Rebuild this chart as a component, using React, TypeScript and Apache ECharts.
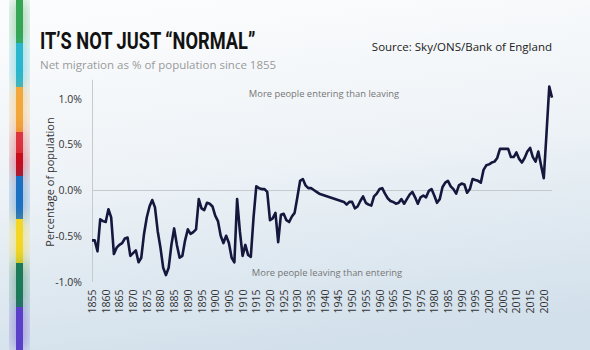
import React, { useEffect, useRef } from "react";
import * as echarts from "echarts";

const years: number[] = [
  1855, 1856, 1857, 1858, 1859, 1860, 1861, 1862, 1863, 1864, 1865, 1866, 1867, 1868, 1869,
  1870, 1871, 1872, 1873, 1874, 1875, 1876, 1877, 1878, 1879, 1880, 1881, 1882, 1883, 1884,
  1885, 1886, 1887, 1888, 1889, 1890, 1891, 1892, 1893, 1894, 1895, 1896, 1897, 1898, 1899,
  1900, 1901, 1902, 1903, 1904, 1905, 1906, 1907, 1908, 1909, 1910, 1911, 1912, 1913, 1914,
  1915, 1916, 1917, 1918, 1919, 1920, 1921, 1922, 1923, 1924, 1925, 1926, 1927, 1928, 1929,
  1930, 1931, 1932, 1933, 1934, 1935, 1936, 1937, 1938,
  1947, 1948, 1949, 1950, 1951, 1952, 1953, 1954, 1955, 1956, 1957, 1958, 1959,
  1960, 1961, 1962, 1963, 1964, 1965, 1966, 1967, 1968, 1969, 1970, 1971, 1972, 1973, 1974,
  1975, 1976, 1977, 1978, 1979, 1980, 1981, 1982, 1983, 1984, 1985, 1986, 1987, 1988, 1989,
  1990, 1991, 1992, 1993, 1994, 1995, 1996, 1997, 1998, 1999, 2000, 2001, 2002, 2003, 2004,
  2005, 2006, 2007, 2008, 2009, 2010, 2011, 2012, 2013, 2014, 2015, 2016, 2017, 2018, 2019,
  2020, 2021, 2022, 2023,
];

const netMigrationPct: number[] = [
  -0.55, -0.55, -0.67, -0.32, -0.34, -0.35, -0.21, -0.3, -0.7, -0.63, -0.6, -0.58, -0.53, -0.52, -0.72,
  -0.69, -0.66, -0.79, -0.74, -0.48, -0.3, -0.18, -0.11, -0.19, -0.45, -0.63, -0.85, -0.93, -0.85, -0.6,
  -0.42, -0.6, -0.74, -0.72, -0.55, -0.43, -0.48, -0.46, -0.43, -0.1, -0.2, -0.22, -0.14, -0.15, -0.18,
  -0.28, -0.34, -0.5, -0.58, -0.5, -0.58, -0.74, -0.79, -0.1, -0.45, -0.72, -0.6, -0.71, -0.73, -0.3,
  0.04, 0.02, 0.01, 0.01, -0.02, -0.33, -0.31, -0.25, -0.57, -0.27, -0.26, -0.33, -0.35, -0.29, -0.25,
  -0.08, 0.1, 0.12, 0.05, 0.02, 0.02, 0.0, -0.02, -0.04,
  -0.13, -0.16, -0.13, -0.13, -0.2, -0.18, -0.12, -0.07, -0.14, -0.16, -0.17, -0.07, -0.04,
  0.01, 0.02, -0.04, -0.09, -0.12, -0.13, -0.15, -0.14, -0.1, -0.15, -0.1, -0.05, -0.02, -0.08, -0.15,
  -0.08, -0.06, -0.08, -0.01, 0.01, -0.06, -0.14, -0.1, 0.03, 0.08, 0.1, 0.04, 0.01, -0.04, 0.05,
  0.07, 0.06, -0.03, 0.01, 0.12, 0.11, 0.1, 0.08, 0.22, 0.27, 0.28, 0.3, 0.31, 0.35, 0.45,
  0.45, 0.45, 0.45, 0.36, 0.36, 0.41, 0.34, 0.3, 0.35, 0.42, 0.46, 0.36, 0.31, 0.42, 0.27,
  0.13, 0.62, 1.13, 1.01,
];

const titleText = "IT\u2019S NOT JUST \u201CNORMAL\u201D";
const subtitleText = "Net migration as % of population since 1855";
const sourceText = "Source: Sky/ONS/Bank of England";
const aboveText = "More people entering than leaving";
const belowText = "More people leaving than entering";
const yAxisName = "Percentage of population";

const stripeColors: string[] = [
  "#35a653", "#2cb6cc", "#f2a83a", "#dc3440", "#c50f1c", "#1f6fc2", "#f3d628", "#1c7a58", "#5a3fc9",
];
const stripeBreaks: number[] = [0, 43, 87, 132, 153, 176, 219, 263, 307, 350];

export default function App() {
  const ref = useRef<HTMLDivElement>(null);

  useEffect(() => {
    if (!ref.current) return;
    const chart = echarts.init(ref.current, null, { renderer: "svg" });

    const stripes = stripeColors.map((c, i) => ({
      type: "rect",
      shape: { x: 16, y: stripeBreaks[i], width: 7, height: stripeBreaks[i + 1] - stripeBreaks[i] },
      style: { fill: c, shadowBlur: 16, shadowColor: c },
      silent: true,
      z: 10,
    }));

    const font = "'Open Sans', 'Noto Sans', sans-serif";

    chart.setOption({
      animation: false,
      backgroundColor: {
        type: "linear",
        x: 0.3,
        y: 0,
        x2: 0.5,
        y2: 1,
        colorStops: [
          { offset: 0, color: "#fbfcfd" },
          { offset: 0.45, color: "#eef3f7" },
          { offset: 1, color: "#d2e0eb" },
        ],
      },
      grid: { left: 92, right: 38, top: 80.2, bottom: 68.5, containLabel: false },
      xAxis: {
        type: "value",
        min: 1855,
        max: 2023,
        interval: 5,
        axisLine: { show: false },
        axisTick: { show: false },
        splitLine: { show: false },
        axisLabel: {
          rotate: 90,
          margin: 8,
          color: "#333",
          fontSize: 10.5,
          fontFamily: font,
          showMaxLabel: false,
          formatter: (v: number) => String(v),
        },
      },
      yAxis: {
        type: "value",
        min: -1,
        max: 1.2,
        interval: 0.5,
        axisLine: { show: true, lineStyle: { color: "#c5cacf", width: 1 } },
        axisTick: { show: false },
        splitLine: { show: false },
        axisLabel: {
          margin: 10,
          color: "#333",
          fontSize: 10.5,
          fontFamily: font,
          showMaxLabel: false,
          formatter: (v: number) => v.toFixed(1) + "%",
        },
      },
      series: [
        {
          type: "line",
          data: years.map((y, i) => [y, netMigrationPct[i]]),
          showSymbol: false,
          lineStyle: { color: "#15173d", width: 2.6, join: "round" },
          markLine: {
            silent: true,
            symbol: "none",
            label: { show: false },
            lineStyle: { color: "#c5cacf", width: 1, type: "solid" },
            data: [{ yAxis: 0 }],
            z: 1,
          },
          z: 5,
        },
      ],
      graphic: [
        ...stripes,
        {
          type: "text",
          x: 49,
          y: 182,
          rotation: Math.PI / 2,
          style: {
            text: yAxisName,
            fill: "#333",
            font: "11px " + font,
            verticalAlign: "middle",
            align: "center",
          },
        },
        {
          type: "text",
          x: 40,
          y: 40.5,
          scaleX: 0.76,
          style: {
            text: titleText,
            fill: "#121212",
            font: "bold 24px Roboto, 'Liberation Sans', sans-serif",
            verticalAlign: "middle",
            align: "left",
          },
        },
        {
          type: "text",
          x: 40,
          y: 64,
          style: {
            text: subtitleText,
            fill: "#9a9a9a",
            font: "11.5px " + font,
            verticalAlign: "middle",
            align: "left",
          },
        },
        {
          type: "text",
          x: 552,
          y: 46,
          style: {
            text: sourceText,
            fill: "#222",
            font: "11.5px " + font,
            verticalAlign: "middle",
            align: "right",
          },
        },
        {
          type: "text",
          x: 324,
          y: 93,
          style: {
            text: aboveText,
            fill: "#777",
            font: "9.4px " + font,
            verticalAlign: "middle",
            align: "center",
          },
        },
        {
          type: "text",
          x: 327,
          y: 272,
          style: {
            text: belowText,
            fill: "#777",
            font: "9.4px " + font,
            verticalAlign: "middle",
            align: "center",
          },
        },
      ],
    });

    return () => chart.dispose();
  }, []);

  return (
    <div
      ref={ref}
      style={{ position: "fixed", left: 0, top: 0, width: 590, height: 350 }}
    />
  );
}
